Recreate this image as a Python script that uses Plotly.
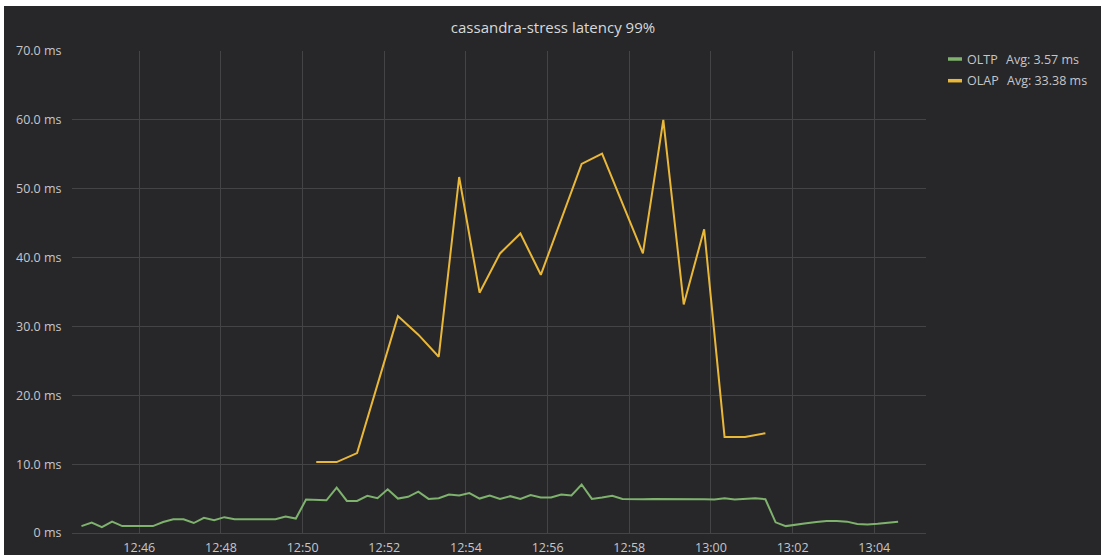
import plotly.graph_objects as go
import pandas as pd

# ---------------- data ----------------
title_text = "cassandra-stress latency 99%"
series_names = ["OLTP", "OLAP"]
avg_labels = ["Avg: 3.57 ms", "Avg: 33.38 ms"]

oltp_start = "2017-05-01 12:44:35"
oltp_step = "15s"
oltp_ms = [1.0, 1.5, 0.85, 1.65, 1.0, 1.0, 1.0, 1.0, 1.6, 2.0,
           2.0, 1.45, 2.2, 1.85, 2.3, 2.0, 2.0, 2.0, 1.95, 2.0,
           2.4, 2.1, 4.85, 4.8, 4.75, 6.6, 4.65, 4.65, 5.4, 5.05,
           6.35, 5.0, 5.25, 6.0, 4.95, 5.05, 5.6, 5.45, 5.8, 5.0,
           5.45, 4.95, 5.35, 4.95, 5.5, 5.15, 5.15, 5.6, 5.45, 7.05,
           4.95, 5.15, 5.4, 4.95, 4.9, 4.9, 4.95, 4.95, 4.95, 5.0,
           4.95, 4.9, 4.85, 5.05, 4.85, 4.95, 5.05, 4.9, 1.55, 1.0,
           1.25, 1.4, 1.6, 1.75, 1.75, 1.65, 1.3, 1.25, 1.35, 1.5, 1.65]

olap_start = "2017-05-01 12:50:20"
olap_step = "30s"
olap_ms = [10.3, 10.3, 11.6, 21.5, 31.5, 28.8, 25.6, 51.7, 34.9, 40.6,
           43.5, 37.5, 45.4, 53.6, 55.1, 47.8, 40.6, 60.0, 33.2, 44.1,
           13.95, 13.95, 14.5]

y_tick_vals = [0, 10, 20, 30, 40, 50, 60, 70]
y_tick_text = ["0 ms", "10.0 ms", "20.0 ms", "30.0 ms", "40.0 ms",
               "50.0 ms", "60.0 ms", "70.0 ms"]
x_range = ["2017-05-01 12:44:21.1", "2017-05-01 13:05:16"]
x_tick0 = "2017-05-01 12:46:00"

oltp_t = pd.date_range(oltp_start, periods=len(oltp_ms), freq=oltp_step)
olap_t = pd.date_range(olap_start, periods=len(olap_ms), freq=olap_step)

# ---------------- style ----------------
W, H = 1101, 555
ML, MR, MT, MB = 72, 175, 51, 22
BG = "#27272a"
GRID = "#444447"
TXT = "#c6c6c8"
FONT = "Open Sans"
COLORS = ["#7eb26d", "#eab839"]


def fx(px):
    return (px - ML) / (W - ML - MR)


def fy(py):
    return (H - MB - py) / (H - MT - MB)


fig = go.Figure()
fig.add_trace(go.Scatter(x=oltp_t, y=oltp_ms, mode="lines", name=series_names[0],
                         line=dict(color=COLORS[0], width=2), showlegend=False))
fig.add_trace(go.Scatter(x=olap_t, y=olap_ms, mode="lines", name=series_names[1],
                         line=dict(color=COLORS[1], width=2), showlegend=False))

shapes = []
annotations = []
legend_rows_y = [59, 80.7]
avg_x = [1005, 1006]
for i in range(2):
    shapes.append(dict(type="line", xref="paper", yref="paper",
                       x0=fx(948), x1=fx(962), y0=fy(legend_rows_y[i]), y1=fy(legend_rows_y[i]),
                       line=dict(color=COLORS[i], width=3.5)))
    annotations.append(dict(text=series_names[i], xref="paper", yref="paper",
                            x=fx(965), y=fy(legend_rows_y[i]), xanchor="left", yanchor="middle",
                            showarrow=False, font=dict(family=FONT, size=12.5, color=TXT)))
    annotations.append(dict(text=avg_labels[i], xref="paper", yref="paper",
                            x=fx(avg_x[i] - 1), y=fy(legend_rows_y[i]), xanchor="left", yanchor="middle",
                            showarrow=False, font=dict(family=FONT, size=12.5, color=TXT)))

# white margins of the screenshot (top and left)
shapes.append(dict(type="rect", xref="paper", yref="paper", layer="above",
                   x0=fx(0), x1=fx(W), y0=fy(6), y1=fy(0),
                   fillcolor="white", line=dict(width=0)))
shapes.append(dict(type="rect", xref="paper", yref="paper", layer="above",
                   x0=fx(0), x1=fx(4), y0=fy(H), y1=fy(0),
                   fillcolor="white", line=dict(width=0)))

fig.update_layout(
    width=W, height=H,
    margin=dict(l=ML, r=MR, t=MT, b=MB, pad=0),
    paper_bgcolor=BG, plot_bgcolor=BG,
    font=dict(family=FONT, color=TXT, size=12.5),
    title=dict(text=title_text, x=553 / W, xref="container", xanchor="center",
               y=1 - 27.3 / H, yref="container", yanchor="middle",
               font=dict(family=FONT, size=15, color="#d8d9da")),
    shapes=shapes,
    annotations=annotations,
    showlegend=False,
    xaxis=dict(type="date", range=x_range, tick0=x_tick0, dtick=120000,
               tickformat="%H:%M", showgrid=True, gridcolor=GRID, gridwidth=1,
               zeroline=False, showline=False, ticks="outside", ticklen=3,
               tickcolor="rgba(0,0,0,0)", automargin=False,
               tickfont=dict(family=FONT, size=12.5, color=TXT)),
    yaxis=dict(range=[0, 70], tickvals=y_tick_vals, ticktext=y_tick_text,
               showgrid=True, gridcolor=GRID, gridwidth=1,
               zeroline=True, zerolinecolor=GRID, zerolinewidth=1,
               showline=False, ticks="outside", ticklen=7,
               tickcolor="rgba(0,0,0,0)", automargin=False,
               tickfont=dict(family=FONT, size=12.5, color=TXT)),
)

fig.write_html("out.html", config={"displayModeBar": False},
               post_script="document.body.style.margin='0';")
